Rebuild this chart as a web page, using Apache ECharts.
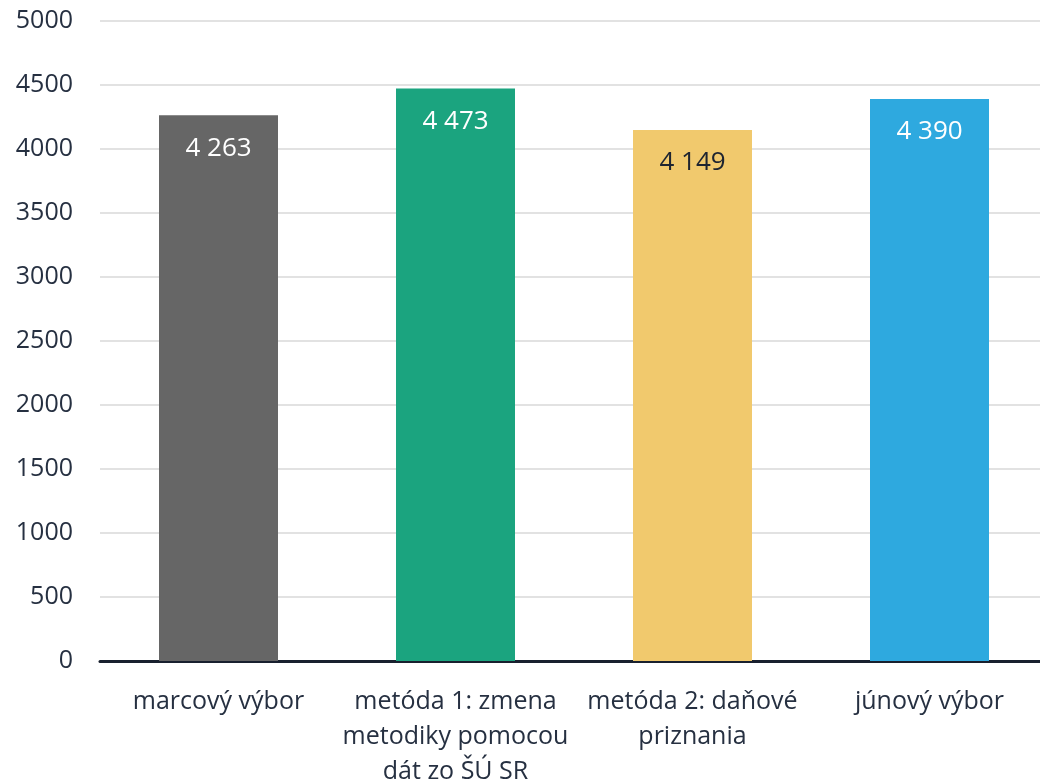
<!DOCTYPE html>
<html><head><meta charset="utf-8">
<script src="https://cdn.jsdelivr.net/npm/echarts@6/dist/echarts.min.js"></script>
<style>html,body{margin:0;padding:0;background:#fff;overflow:hidden}#c{width:1040px;height:784px}</style>
</head><body><div id="c"></div>
<script>
const categories = ['marcový výbor', 'metóda 1: zmena\nmetodiky pomocou\ndát zo ŠÚ SR', 'metóda 2: daňové\npriznania', 'júnový výbor'];
const values = [4263, 4473, 4149, 4390];
const barColors = ['#666666', '#1ba47f', '#f1c96d', '#2ea9df'];
const labelColors = ['#ffffff', '#ffffff', '#1e2430', '#ffffff'];
const yTicks = [0, 500, 1000, 1500, 2000, 2500, 3000, 3500, 4000, 4500, 5000];

const font = '"Open Sans", sans-serif';
const chart = echarts.init(document.getElementById('c'));
chart.setOption({
  animation: false,
  grid: {left: 100, width: 948, top: 21, height: 640, containLabel: false, outerBoundsMode: 'none'},
  xAxis: {
    type: 'category', data: categories,
    axisLine: {lineStyle: {color: '#18202e', width: 3}},
    axisTick: {show: false},
    axisLabel: {color: '#263041', fontSize: 25, fontFamily: font, lineHeight: 35, margin: 23, interval: 0}
  },
  yAxis: {
    type: 'value', min: yTicks[0], max: yTicks[yTicks.length-1], interval: 500,
    axisLine: {show: false}, axisTick: {show: false},
    splitLine: {lineStyle: {color: '#e2e2e2', width: 2}},
    axisLabel: {color: '#263041', fontSize: 25, fontFamily: font, margin: 27, formatter: v => String(v)}
  },
  series: [{
    type: 'bar', barWidth: 119,
    data: values.map((v, i) => ({
      value: v,
      itemStyle: {color: barColors[i]},
      label: {color: labelColors[i]}
    })),
    label: {
      show: true, position: 'insideTop', distance: 20,
      fontSize: 26, fontFamily: font,
      formatter: p => String(p.value).replace(/\B(?=(\d{3})+(?!\d))/g, ' ')
    }
  }]
});
</script></body></html>
